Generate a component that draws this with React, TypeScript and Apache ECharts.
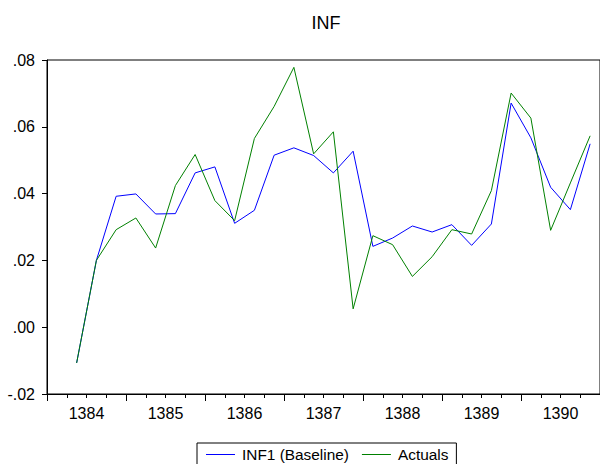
import React, { useEffect, useRef } from "react";
import * as echarts from "echarts";

const quarters: string[] = [];
const years = ["1384", "1385", "1386", "1387", "1388", "1389", "1390"];
years.forEach((y) => {
  for (let q = 1; q <= 4; q++) quarters.push(`${y}Q${q}`);
});

const inf1Baseline = [
  null, -0.0107, 0.02, 0.0392, 0.0399, 0.0339, 0.034, 0.0462, 0.048, 0.0311,
  0.035, 0.0515, 0.0537, 0.0514, 0.0462, 0.0527, 0.0242, 0.0267, 0.0303,
  0.0285, 0.0307, 0.0245, 0.0309, 0.0671, 0.0567, 0.0419, 0.0352, 0.0549,
];

const actuals = [
  null, -0.0107, 0.02, 0.0292, 0.0327, 0.0237, 0.0424, 0.0517, 0.0379, 0.0319,
  0.0565, 0.0661, 0.0778, 0.0519, 0.0585, 0.0055, 0.0274, 0.0247, 0.0152,
  0.0211, 0.0292, 0.0279, 0.0409, 0.0701, 0.0626, 0.029, 0.0432, 0.0573,
];

const FONT = "Liberation Sans, Arial, sans-serif";

export default function App() {
  const ref = useRef<HTMLDivElement>(null);
  useEffect(() => {
    if (!ref.current) return;
    const chart = echarts.init(ref.current, null, { renderer: "svg" });
    chart.setOption({
      animation: false,
      backgroundColor: "#fff",
      title: {
        text: "INF",
        left: 326,
        top: 14,
        textAlign: "center",
        padding: 0,
        textStyle: { fontFamily: FONT, fontSize: 18, fontWeight: "normal", color: "#000" },
      },
      legend: {
        left: 197,
        top: 443,
        padding: [4, 8, 6, 9],
        borderColor: "#000",
        borderWidth: 1,
        icon: "rect",
        itemWidth: 29,
        itemHeight: 1,
        itemGap: 13,
        textStyle: { fontFamily: FONT, fontSize: 15.4, color: "#000", padding: [0, 0, 0, 2] },
        data: ["INF1 (Baseline)", "Actuals"],
      },
      grid: {
        left: 47,
        top: 60,
        width: 560,
        height: 334,
        show: true,
        borderColor: "#000",
        borderWidth: 1,
        containLabel: false,
      },
      xAxis: [
        {
          type: "category",
          data: quarters,
          boundaryGap: true,
          position: "bottom",
          axisLine: { show: true, onZero: false, lineStyle: { color: "#000", width: 1 } },
          axisTick: { show: true, length: 4, interval: 0, lineStyle: { color: "#000" } },
          axisLabel: { show: false },
          splitLine: { show: false },
        },
        {
          type: "category",
          data: years,
          boundaryGap: true,
          position: "bottom",
          axisLine: { show: false, onZero: false },
          axisTick: { show: true, length: 7, interval: 0, lineStyle: { color: "#000" } },
          axisLabel: {
            show: true,
            interval: 0,
            margin: 11,
            fontFamily: FONT,
            fontSize: 16,
            color: "#000",
          },
          splitLine: { show: false },
        },
      ],
      yAxis: {
        type: "value",
        min: -0.02,
        max: 0.08,
        interval: 0.02,
        axisLine: { show: true, lineStyle: { color: "#000", width: 1 } },
        axisTick: { show: true, length: 5, lineStyle: { color: "#000" } },
        axisLabel: {
          margin: 12,
          fontFamily: FONT,
          fontSize: 16,
          color: "#000",
          formatter: (v: number) => v.toFixed(2).replace("0.", "."),
        },
        splitLine: { show: false },
      },
      series: [
        {
          name: "INF1 (Baseline)",
          type: "line",
          xAxisIndex: 0,
          data: inf1Baseline,
          symbol: "none",
          showSymbol: false,
          lineStyle: { color: "#0000ff", width: 1 },
          itemStyle: { color: "#0000ff" },
        },
        {
          name: "Actuals",
          type: "line",
          xAxisIndex: 0,
          data: actuals,
          symbol: "none",
          showSymbol: false,
          lineStyle: { color: "#008000", width: 1 },
          itemStyle: { color: "#008000" },
        },
      ],
    });
    return () => chart.dispose();
  }, []);
  return (
    <div
      ref={ref}
      style={{ position: "fixed", left: 0, top: 0, width: 600, height: 464, background: "#fff" }}
    />
  );
}
